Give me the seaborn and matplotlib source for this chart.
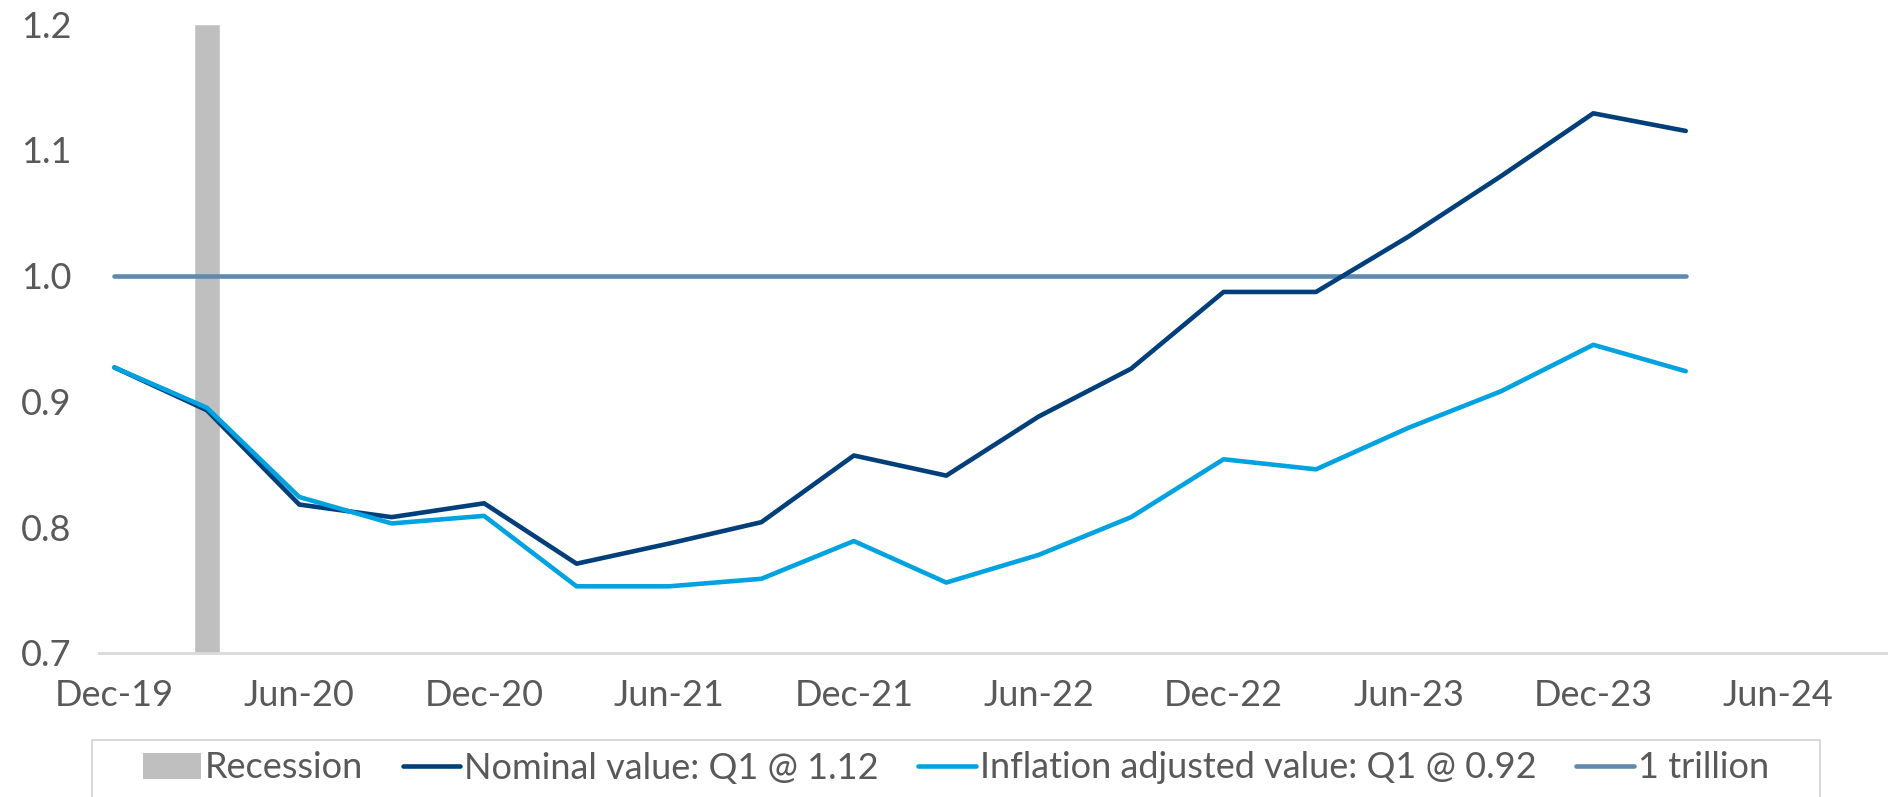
import numpy as np
import pandas as pd
import matplotlib
matplotlib.use("Agg")
import matplotlib.pyplot as plt
import seaborn as sns
from matplotlib.patches import Patch, Rectangle
from matplotlib.lines import Line2D

# ---- data ----
quarters = ["Dec-19", "Mar-20", "Jun-20", "Sep-20", "Dec-20", "Mar-21", "Jun-21", "Sep-21",
            "Dec-21", "Mar-22", "Jun-22", "Sep-22", "Dec-22", "Mar-23", "Jun-23", "Sep-23",
            "Dec-23", "Mar-24"]
nominal = [0.927, 0.893, 0.818, 0.808, 0.819, 0.771, 0.787, 0.804, 0.857, 0.841, 0.888,
           0.926, 0.987, 0.987, 1.031, 1.079, 1.129, 1.115]
inflation_adj = [0.927, 0.895, 0.824, 0.803, 0.809, 0.753, 0.753, 0.759, 0.789, 0.756, 0.778,
                 0.808, 0.854, 0.846, 0.879, 0.908, 0.945, 0.924]
trillion = [1.0] * len(quarters)
recession_dates = ["Mar-20"]
recession_values = [1.2]
tick_labels = ["Dec-19", "Jun-20", "Dec-20", "Jun-21", "Dec-21", "Jun-22", "Dec-22",
               "Jun-23", "Dec-23", "Jun-24"]
axis_end = "Sep-24"

labels = ["Recession", "Nominal value: Q1 @ 1.12", "Inflation adjusted value: Q1 @ 0.92",
          "1 trillion"]
c_rec = "#BFBFBF"
c_nom = "#003F7A"
c_inf = "#00A3E0"
c_tril = "#5F89AE"
c_text = "#595959"

# month index helper
base = pd.to_datetime("Dec-19", format="%b-%y")
def midx(lbl):
    d = pd.to_datetime(lbl, format="%b-%y")
    return (d.year - base.year) * 12 + (d.month - base.month)

df = pd.DataFrame({
    "m": [midx(q) for q in quarters],
    "nominal": nominal,
    "inflation": inflation_adj,
    "trillion": trillion,
})

sns.set_theme(style="white")
plt.rcParams["font.family"] = ["Lato", "DejaVu Sans"]

FS = 26
W, H = 1892, 797
fig = plt.figure(figsize=(W / 100, H / 100), dpi=100)
ax = fig.add_axes([99 / W, (H - 653) / H, 1787 / W, (653 - 24) / H])

# recession bar
ax.bar([midx(d) for d in recession_dates], [v - 0.7 for v in recession_values], bottom=0.7,
       width=0.84, color=c_rec, zorder=1)

lw = 3.3
sns.lineplot(data=df, x="m", y="nominal", ax=ax, color=c_nom, linewidth=lw, zorder=3,
             solid_capstyle="round", solid_joinstyle="round")
sns.lineplot(data=df, x="m", y="inflation", ax=ax, color=c_inf, linewidth=lw, zorder=4,
             solid_capstyle="round", solid_joinstyle="round")
sns.lineplot(data=df, x="m", y="trillion", ax=ax, color=c_tril, linewidth=lw, zorder=2,
             solid_capstyle="round")

ax.set_xlim(-0.5, midx(axis_end) + 0.5)
ax.set_ylim(0.7, 1.2)
yt = [0.7, 0.8, 0.9, 1.0, 1.1, 1.2]
ax.set_yticks(yt)
ax.set_yticklabels([f"{v:.1f}" for v in yt])
ax.set_xticks([midx(t) for t in tick_labels])
ax.set_xticklabels(tick_labels)
ax.set_xlabel("")
ax.set_ylabel("")
ax.tick_params(axis="both", length=0, labelsize=FS, labelcolor=c_text)
ax.tick_params(axis="y", pad=20)
ax.tick_params(axis="x", pad=19)

for s in ["top", "right", "left"]:
    ax.spines[s].set_visible(False)
ax.spines["bottom"].set_color("#D9D9D9")
ax.spines["bottom"].set_linewidth(2)
ax.grid(False)

# legend box
fig.patches.append(Rectangle((92 / W, -0.05), (1820 - 92) / W, (H - 740) / H + 0.05,
                             transform=fig.transFigure, facecolor="none",
                             edgecolor="#D9D9D9", linewidth=1.5))

handles = [
    Patch(facecolor=c_rec, edgecolor="none"),
    Line2D([0], [0], color=c_nom, lw=lw, solid_capstyle="round"),
    Line2D([0], [0], color=c_inf, lw=lw, solid_capstyle="round"),
    Line2D([0], [0], color=c_tril, lw=lw, solid_capstyle="round"),
]
leg = fig.legend(handles, labels, loc="center",
                 bbox_to_anchor=((92 + 1820) / 2 / W, (H - 768) / H),
                 ncol=4, frameon=False, fontsize=FS,
                 handlelength=1.6, handleheight=0.75, handletextpad=0.1, columnspacing=1.1,
                 borderpad=0.0, labelcolor=c_text)

fig.savefig("out.png", dpi=100)
